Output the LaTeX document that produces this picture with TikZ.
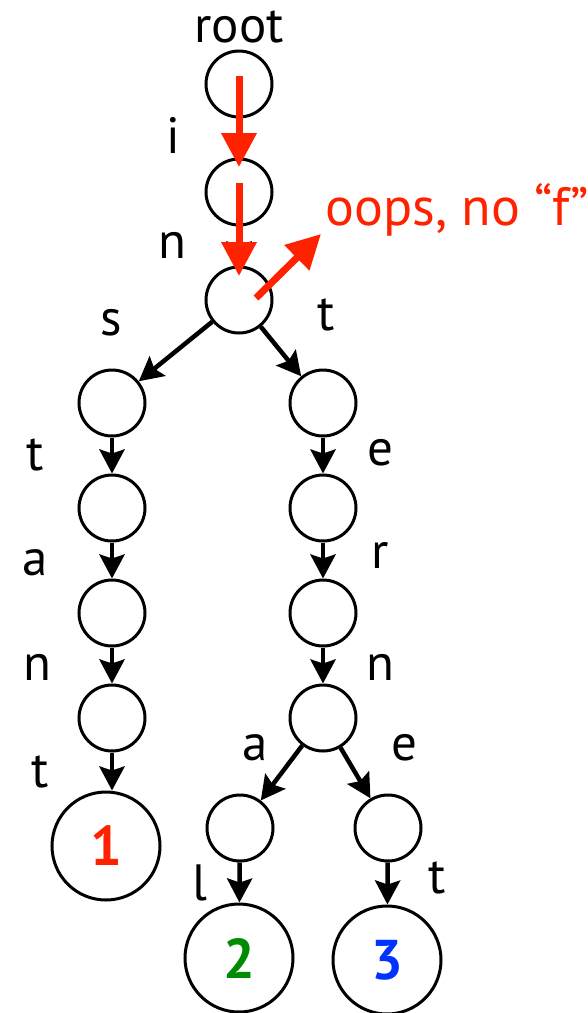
\documentclass[tikz,border=0pt]{standalone}
\usepackage{fontspec}
\setmainfont{PT Sans}
\usetikzlibrary{arrows.meta}
\definecolor{oopsred}{HTML}{FF2200}
\definecolor{leafgreen}{HTML}{008C00}
\definecolor{leafblue}{HTML}{0033FF}
\tikzset{
  trienode/.style={circle, draw=black, line width=3pt, minimum size=66pt, inner sep=0pt},
  leafnode/.style={circle, draw=black, line width=3pt, minimum size=108pt, inner sep=0pt, font=\fontsize{56}{64}\selectfont\bfseries},
  lbl/.style={anchor=base, inner sep=0pt, font=\fontsize{51}{58}\selectfont},
  edge/.style={line width=4.5pt, -{Stealth[length=24pt,width=25pt,inset=4pt]}},
  redarrow/.style={draw=oopsred, line width=7pt, -{Triangle[length=34pt,width=34pt]}},
}
\begin{document}
\begin{tikzpicture}[x=1pt,y=-1pt]
\useasboundingbox (0,0) rectangle (588,1013);
% nodes
\node[trienode] (root) at (239,84) {};
\node[trienode] (ni) at (239,192) {};
\node[trienode] (nn) at (239,300) {};
\node[trienode] (s1) at (112,403) {};
\node[trienode] (s2) at (112,508) {};
\node[trienode] (s3) at (112,613) {};
\node[trienode] (s4) at (112,718) {};
\node[leafnode, text=oopsred] (leafA) at (106,846) {1};
\node[trienode] (t1) at (323,403) {};
\node[trienode] (t2) at (323,508) {};
\node[trienode] (t3) at (323,613) {};
\node[trienode] (t4) at (323,718) {};
\node[trienode] (ca) at (240,828) {};
\node[trienode] (ce) at (388,828) {};
\node[leafnode, text=leafgreen] (leafB) at (239,958) {2};
\node[leafnode, text=leafblue] (leafC) at (387,960) {3};
% edges
\draw[edge] (root) -- (ni);
\draw[edge] (ni) -- (nn);
\draw[edge] (nn) -- (s1);
\draw[edge] (s1) -- (s2);
\draw[edge] (s2) -- (s3);
\draw[edge] (s3) -- (s4);
\draw[edge] (s4) -- (s4 |- leafA.north);
\draw[edge] (nn) -- (t1);
\draw[edge] (t1) -- (t2);
\draw[edge] (t2) -- (t3);
\draw[edge] (t3) -- (t4);
\draw[edge] (t4) -- (ca);
\draw[edge] (t4) -- (ce);
\draw[edge] (ca) -- (leafB);
\draw[edge] (ce) -- (leafC);
% labels
\node[lbl] (Lroot) at (239,42) {root};
\node[lbl] (Li) at (173,153) {i};
\node[lbl] (Ln) at (172,258) {n};
\node[lbl] (Ls) at (111,335) {s};
\node[lbl] (Lt) at (326,330) {t};
\node[lbl] (Lt2) at (35,470) {t};
\node[lbl] (La) at (35,575) {a};
\node[lbl] (Ln2) at (37,680) {n};
\node[lbl] (Lt3) at (40,787) {t};
\node[lbl] (Le) at (380,465) {e};
\node[lbl] (Lr) at (380,568) {r};
\node[lbl] (Ln3) at (380,680) {n};
\node[lbl] (La2) at (255,760) {a};
\node[lbl] (Le2) at (404,760) {e};
\node[lbl] (Ll) at (200,900) {l};
\node[lbl] (Lt4) at (437,893) {t};
% red search path
\coordinate (r1s) at (239,76);
\coordinate (r1e) at (239,167);
\coordinate (r2s) at (239,183);
\coordinate (r2e) at (239,276);
\coordinate (r3s) at (256,298);
\coordinate (r3e) at (321,234);
\draw[redarrow] (r1s) -- (r1e);
\draw[redarrow] (r2s) -- (r2e);
\draw[redarrow] (r3s) -- (r3e);
\node[lbl, anchor=base west, text=oopsred, font=\fontsize{54}{60}\selectfont] (oops) at (325,225) {oops, no “f”};
\end{tikzpicture}
\end{document}
